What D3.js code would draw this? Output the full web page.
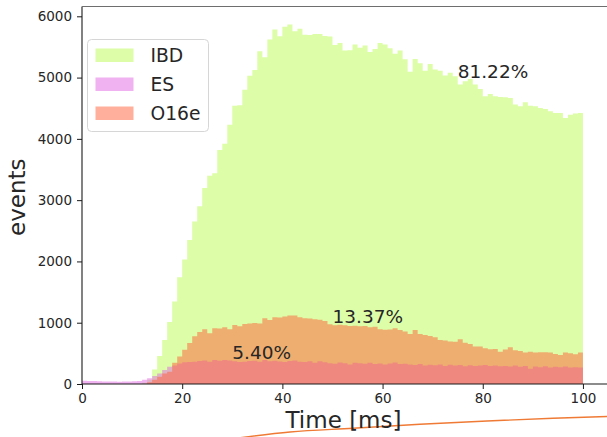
<!DOCTYPE html>
<html>
<head>
<meta charset="utf-8">
<script src="https://cdn.jsdelivr.net/npm/d3@7"></script>
<style>
  body { margin: 0; background: #fff; }
  svg { display: block; }
  text { font-family: "DejaVu Sans", sans-serif; fill: #262626; }
</style>
</head>
<body>
<svg id="chart" width="607" height="437"></svg>
<script>
// Time bins: 1 ms wide, left edges 0..99 ms
const binStart = d3.range(0, 100);

// Events per bin for each channel (histograms are overlaid, not stacked)
const ibd = [
  0, 0, 0, 0, 0, 0, 0, 0, 0, 0,
  0, 0, 20, 70, 235, 455, 720, 1010, 1345, 1740,
  2030, 2350, 2650, 2900, 3200, 3400, 3440, 3820, 3920, 4230,
  4540, 4550, 4800, 5030, 5125, 5430, 5332, 5621, 5784, 5675,
  5828, 5866, 5757, 5795, 5700, 5695, 5713, 5710, 5680, 5670,
  5530, 5566, 5441, 5445, 5539, 5485, 5523, 5419, 5468, 5566,
  5539, 5480, 5390, 5441, 5300, 5095, 5305, 5235, 5110, 5220,
  5130, 5110, 5033, 5077, 5022, 4886, 4940, 4978, 4886, 4815,
  4694, 4733, 4694, 4684, 4678, 4668, 4559, 4531, 4597, 4542,
  4531, 4504, 4488, 4450, 4423, 4423, 4341, 4395, 4412, 4423
];
const es = [
  52, 50, 48, 45, 42, 40, 40, 38, 40, 42,
  45, 50, 70, 95, 130, 170, 230, 280, 300, 335,
  355, 360, 365, 375, 385, 365, 390, 380, 392, 385,
  370, 360, 365, 375, 378, 365, 392, 372, 380, 368,
  360, 375, 385, 365, 360, 370, 345, 372, 355, 340,
  330, 352, 340, 320, 345, 340, 330, 345, 325, 335,
  320, 335, 350, 325, 330, 320, 310, 325, 300, 315,
  305, 320, 295, 315, 300, 310, 290, 305, 295, 300,
  310, 295, 300, 290, 295, 285, 300, 280, 295, 250,
  285, 275, 290, 270, 280, 275, 285, 270, 275, 270
];
const o16e = [
  0, 0, 0, 0, 0, 0, 0, 0, 0, 0,
  0, 0, 0, 30, 70, 120, 170, 200, 345, 450,
  560, 670, 780, 850, 893, 828, 910, 905, 927, 893,
  964, 942, 980, 988, 995, 988, 1073, 1046, 1089, 1085,
  1100, 1116, 1116, 1089, 1073, 1070, 1056, 1050, 1029, 975,
  960, 965, 958, 948, 950, 942, 948, 927, 935, 893,
  886, 888, 910, 880, 855, 817, 880, 815, 800, 784,
  762, 719, 708, 692, 690, 730, 675, 654, 610, 612,
  583, 567, 570, 528, 565, 599, 550, 540, 512, 528,
  515, 518, 520, 512, 490, 474, 512, 501, 485, 512
];

const seriesNames = ["IBD", "ES", "O16e"];
const shareText = ["81.22%", "5.40%", "13.37%"];
const xTickValues = [0, 20, 40, 60, 80, 100];
const yTickValues = [0, 1000, 2000, 3000, 4000, 5000, 6000];

// ---- styling ----
const fills = { IBD: "#bbfb51", ES: "#e165e1", O16e: "#ff5f38" };
const fillAlpha = 0.5;

const svg = d3.select("#chart");
const plotLeft = 82, plotBottom = 384, plotTop = 6.5, plotRight = 608;

const x = d3.scaleLinear().domain([0, 105]).range([plotLeft, plotRight]);
const y = d3.scaleLinear().domain([0, 6160]).range([plotBottom, plotTop]);

const seriesData = { IBD: ibd, ES: es, O16e: o16e };

// edge of the neighbouring panel peeking in below
const curvePts = [[238, 438], [290, 432], [353, 428.3], [420, 424.3], [487, 421], [553, 418.3], [610, 416.4]];
svg.append("path")
  .attr("d", d3.line().curve(d3.curveMonotoneX)(curvePts))
  .attr("fill", "none")
  .attr("stroke", "#ef7a35")
  .attr("stroke-width", 1.4);

// step outline of a histogram as a filled area
const stepArea = d3.area()
  .curve(d3.curveStepAfter)
  .x(d => x(d[0]))
  .y0(y(0))
  .y1(d => y(d[1]));

const plot = svg.append("g");
for (const name of seriesNames) {
  const vals = seriesData[name];
  const pts = binStart.map((b, i) => [b, vals[i]]);
  pts.push([binStart[binStart.length - 1] + 1, vals[vals.length - 1]]);
  plot.append("path")
    .attr("d", stepArea(pts))
    .attr("fill", fills[name])
    .attr("fill-opacity", fillAlpha);
}

// share annotations
const shareAnchors = { IBD: [75, 5000], ES: [30, 400], O16e: [50, 1000] };
seriesNames.forEach((name, i) => {
  const [tx, ty] = shareAnchors[name];
  svg.append("text")
    .attr("x", x(tx)).attr("y", y(ty))
    .attr("font-size", 18.5)
    .text(shareText[i]);
});

// spines
const spine = svg.append("g").attr("stroke", "#1a1a1a").attr("stroke-width", 1.1);
spine.append("line").attr("x1", plotLeft).attr("x2", plotLeft).attr("y1", plotTop).attr("y2", plotBottom);
spine.append("line").attr("x1", plotLeft).attr("x2", 607).attr("y1", plotBottom).attr("y2", plotBottom);
spine.append("line").attr("x1", plotLeft).attr("x2", 607).attr("y1", plotTop).attr("y2", plotTop)
  .attr("stroke", "#6e6e6e");

// axes
const xAxis = d3.axisBottom(x).tickValues(xTickValues).tickSize(5).tickPadding(4)
  .tickFormat(d3.format("d"));
const yAxis = d3.axisLeft(y).tickValues(yTickValues).tickSize(5).tickPadding(5)
  .tickFormat(d3.format("d"));

const gx = svg.append("g").attr("transform", `translate(0,${plotBottom})`).call(xAxis);
const gy = svg.append("g").attr("transform", `translate(${plotLeft},0)`).call(yAxis);
[gx, gy].forEach(g => {
  g.select(".domain").remove();
  g.selectAll(".tick line").attr("stroke", "#1a1a1a").attr("stroke-width", 1);
  g.selectAll(".tick text")
    .attr("font-family", "DejaVu Sans, sans-serif")
    .attr("font-size", 13.5)
    .attr("fill", "#262626");
});

// axis titles
svg.append("text")
  .attr("x", (plotLeft + 607) / 2 - 1).attr("y", 428)
  .attr("text-anchor", "middle")
  .attr("font-size", 23)
  .text("Time [ms]");
svg.append("text")
  .attr("transform", `translate(25,${(plotTop + plotBottom) / 2 + 2}) rotate(-90)`)
  .attr("text-anchor", "middle")
  .attr("font-size", 23)
  .text("events");

// legend
const lg = svg.append("g").attr("transform", "translate(87.5,39.5)");
lg.append("rect")
  .attr("width", 121).attr("height", 92)
  .attr("rx", 4).attr("ry", 4)
  .attr("fill", "#fff").attr("fill-opacity", 0.8)
  .attr("stroke", "#d6d6d6").attr("stroke-width", 1);
seriesNames.forEach((name, i) => {
  const row = lg.append("g").attr("transform", `translate(8,${9 + i * 29})`);
  row.append("rect")
    .attr("width", 38).attr("height", 13.5)
    .attr("fill", fills[name]).attr("fill-opacity", fillAlpha);
  row.append("text")
    .attr("x", 55).attr("y", 13.5)
    .attr("font-size", 18.7)
    .text(name);
});
</script>
</body>
</html>
